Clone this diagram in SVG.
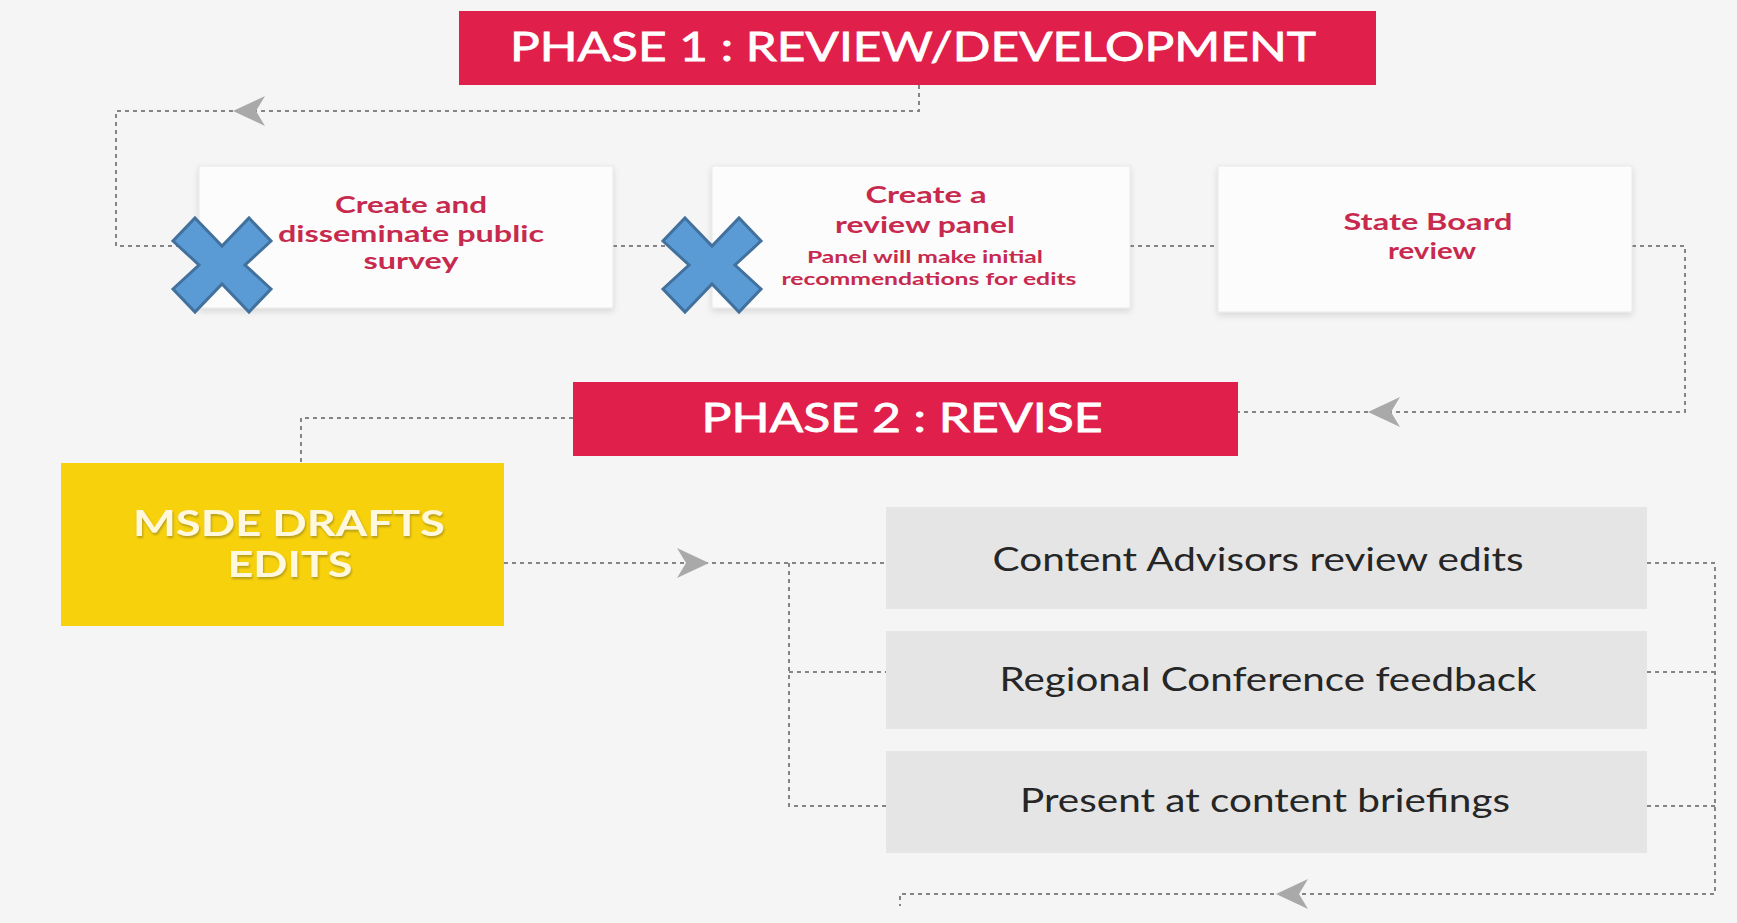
<svg xmlns="http://www.w3.org/2000/svg" xmlns:xlink="http://www.w3.org/1999/xlink" width="1737" height="923" viewBox="0 0 1737 923">
  <style>
    .banner { fill: #E11F4B; }
    .bannerText { font-family: Lato, "Liberation Sans", sans-serif; font-weight: normal; font-size: 41px; fill: #FFFFFF; stroke: #FFFFFF; stroke-width: 0.8; text-anchor: middle; }
    .card { fill: #FCFCFC; stroke: #E8E8E8; stroke-width: 1; }
    .cardText { font-family: Lato, "Liberation Sans", sans-serif; font-weight: bold; font-size: 22px; fill: #C72A4E; text-anchor: middle; }
    .cardSub { font-family: Lato, "Liberation Sans", sans-serif; font-weight: bold; font-size: 17px; fill: #C72A4E; text-anchor: middle; }
    .yellow { fill: #F7D10C; }
    .yellowText { font-family: Lato, "Liberation Sans", sans-serif; font-weight: bold; font-size: 36px; fill: #FFF8DC; text-anchor: middle; }
    .grey { fill: #E5E5E5; }
    .greyText { font-family: Lato, "Liberation Sans", sans-serif; font-size: 32px; fill: #262626; text-anchor: middle; }
    .conn { fill: none; stroke: #858585; stroke-width: 2; stroke-dasharray: 4 4; }
    .arrow { fill: #A9A9A9; }
    .xmark { fill: #5B9BD5; stroke: #41719C; stroke-width: 3; stroke-linejoin: miter; }
  </style>
  <defs>
    <filter id="shadow" x="-10%" y="-10%" width="120%" height="130%">
      <feDropShadow dx="0" dy="3" stdDeviation="3" flood-color="#000000" flood-opacity="0.12"/>
    </filter>
    <filter id="tshadow" x="-10%" y="-20%" width="120%" height="150%">
      <feDropShadow dx="1" dy="2" stdDeviation="1.2" flood-color="#8A7A20" flood-opacity="0.6"/>
    </filter>
    <path id="arrowL" d="M0,0 L32,-15 L23,0 L32,15 Z"/>
    <path id="arrowR" d="M0,0 L-32,-15 L-23,0 L-32,15 Z"/>
    <polygon id="xshape" points="22,0 49,28 76,0 98,23 72,47 98,71 76,94 49,66 22,94 0,71 26,47 0,23"/>
  </defs>

  <rect x="0" y="0" width="1737" height="923" fill="#F5F5F5"/>

  <g id="connectors">
    <path class="conn" d="M919,85 V111 H116 V246 H199"/>
    <use href="#arrowL" x="233" y="111" class="arrow"/>
    <path class="conn" d="M613,246 H712"/>
    <path class="conn" d="M1130,246 H1218"/>
    <path class="conn" d="M1632,246 H1685 V412 H1238"/>
    <use href="#arrowL" x="1368" y="412" class="arrow"/>
    <path class="conn" d="M573,418 H301 V463"/>
    <path class="conn" d="M504,563 H886"/>
    <use href="#arrowR" x="709" y="563" class="arrow"/>
    <path class="conn" d="M789,563 V806 H886"/>
    <path class="conn" d="M789,672 H886"/>
    <path class="conn" d="M1647,563 H1715 V894 H900 V906"/>
    <path class="conn" d="M1647,672 H1715"/>
    <path class="conn" d="M1647,806 H1715"/>
    <use href="#arrowL" x="1276" y="894" class="arrow"/>
  </g>

  <g id="phase1">
    <rect class="banner" x="459" y="11" width="917" height="74"/>
    <text class="bannerText" x="913" y="61" textLength="806" lengthAdjust="spacingAndGlyphs">PHASE 1 : REVIEW/DEVELOPMENT</text>
  </g>

  <g id="survey">
    <rect class="card" x="199" y="166" width="414" height="142" filter="url(#shadow)"/>
    <text class="cardText" x="411" y="213" textLength="152" lengthAdjust="spacingAndGlyphs">Create and</text>
    <text class="cardText" x="411" y="242" textLength="266" lengthAdjust="spacingAndGlyphs">disseminate public</text>
    <text class="cardText" x="411" y="269" textLength="95" lengthAdjust="spacingAndGlyphs">survey</text>
  </g>

  <g id="panel">
    <rect class="card" x="712" y="166" width="418" height="142" filter="url(#shadow)"/>
    <text class="cardText" x="926" y="203" textLength="121" lengthAdjust="spacingAndGlyphs">Create a</text>
    <text class="cardText" x="925" y="233" textLength="180" lengthAdjust="spacingAndGlyphs">review panel</text>
    <text class="cardSub" x="925" y="263" textLength="236" lengthAdjust="spacingAndGlyphs">Panel will make initial</text>
    <text class="cardSub" x="929" y="285" textLength="295" lengthAdjust="spacingAndGlyphs">recommendations for edits</text>
  </g>

  <g id="stateboard">
    <rect class="card" x="1218" y="166" width="414" height="146" filter="url(#shadow)"/>
    <text class="cardText" x="1428" y="230" textLength="169" lengthAdjust="spacingAndGlyphs">State Board</text>
    <text class="cardText" x="1432" y="259" textLength="88" lengthAdjust="spacingAndGlyphs">review</text>
  </g>

  <g id="phase2">
    <rect class="banner" x="573" y="382" width="665" height="74"/>
    <text class="bannerText" x="902" y="432" textLength="401" lengthAdjust="spacingAndGlyphs">PHASE 2 : REVISE</text>
  </g>

  <g id="msde">
    <rect class="yellow" x="61" y="463" width="443" height="163"/>
    <text class="yellowText" x="289" y="536" textLength="312" lengthAdjust="spacingAndGlyphs" filter="url(#tshadow)">MSDE DRAFTS</text>
    <text class="yellowText" x="290" y="577" textLength="125" lengthAdjust="spacingAndGlyphs" filter="url(#tshadow)">EDITS</text>
  </g>

  <g id="advisors">
    <rect class="grey" x="886" y="507" width="761" height="102"/>
    <text class="greyText" x="1258" y="571" textLength="531" lengthAdjust="spacingAndGlyphs">Content Advisors review edits</text>
  </g>

  <g id="regional">
    <rect class="grey" x="886" y="631" width="761" height="98"/>
    <text class="greyText" x="1268" y="691" textLength="537" lengthAdjust="spacingAndGlyphs">Regional Conference feedback</text>
  </g>

  <g id="briefings">
    <rect class="grey" x="886" y="751" width="761" height="102"/>
    <text class="greyText" x="1265" y="812" textLength="490" lengthAdjust="spacingAndGlyphs">Present at content briefings</text>
  </g>

  <g id="marks">
    <use href="#xshape" class="xmark" transform="translate(173,218)"/>
    <use href="#xshape" class="xmark" transform="translate(663,218)"/>
  </g>
</svg>
